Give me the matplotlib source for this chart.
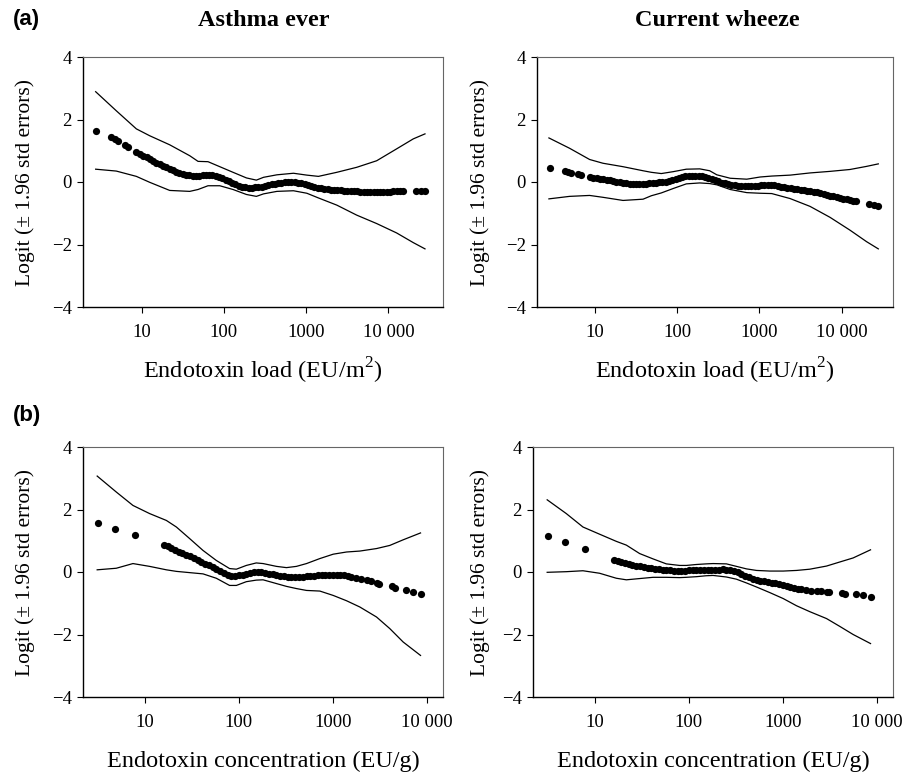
import numpy as np
import matplotlib
matplotlib.use("Agg")
import matplotlib.pyplot as plt

plt.rcParams["font.family"] = "Liberation Serif"
plt.rcParams["mathtext.fontset"] = "custom"
plt.rcParams["mathtext.rm"] = "Liberation Serif"

# endotoxin load (EU/m2) of the observations, same for both outcomes
load_x = [2.8, 4.28, 4.7, 5.15, 6.2, 6.8, 8.6,
          9.55, 10.5, 11.5, 12.6, 13.8, 15.1, 16.6, 18.2, 20.0, 21.9,
          24.0, 26.3, 28.8, 31.6, 34.7, 38.0, 41.7, 45.7, 50.1, 55.0,
          60.3, 66.1, 72.4, 79.4, 87.1, 95.5, 105, 115, 126, 138,
          151, 166, 182, 200, 219, 240, 263, 288, 316, 347,
          380, 417, 457, 501, 550, 603, 661, 724, 794, 871,
          955, 1050, 1150, 1260, 1380, 1510, 1660, 1820, 2000, 2190,
          2400, 2630, 2880, 3160, 3470, 3800, 4170, 4570, 5010, 5500,
          6030, 6610, 7240, 7940, 8710, 9550, 10500, 11500, 12600, 13800,
          15100,
          21700, 24700, 27900]
asthma_load = [1.64, 1.43, 1.38, 1.32, 1.18, 1.13, 0.97,
               0.89, 0.84, 0.79, 0.73, 0.67, 0.62, 0.57, 0.52, 0.47, 0.42,
               0.37, 0.33, 0.30, 0.27, 0.23, 0.21, 0.19, 0.18, 0.19, 0.21,
               0.23, 0.23, 0.22, 0.20, 0.17, 0.13, 0.07, 0.02, -0.02, -0.07,
               -0.12, -0.15, -0.17, -0.18, -0.18, -0.17, -0.16, -0.15, -0.12, -0.10,
               -0.07, -0.05, -0.03, -0.02, -0.01, -0.01, -0.01, -0.01, -0.02, -0.04,
               -0.07, -0.10, -0.13, -0.16, -0.19, -0.20, -0.21, -0.22, -0.24, -0.25,
               -0.26, -0.27, -0.28, -0.29, -0.29, -0.30, -0.30, -0.31, -0.31, -0.31,
               -0.31, -0.31, -0.31, -0.31, -0.31, -0.31, -0.31, -0.30, -0.30, -0.30,
               -0.30,
               -0.30, -0.30, -0.30]
wheeze_load = [0.44, 0.36, 0.33, 0.30, 0.25, 0.23, 0.17,
               0.14, 0.13, 0.11, 0.09, 0.07, 0.05, 0.03, 0.01, -0.01, -0.03,
               -0.04, -0.05, -0.06, -0.06, -0.06, -0.06, -0.05, -0.04, -0.03, -0.02,
               -0.01, -0.01, 0.01, 0.03, 0.06, 0.11, 0.14, 0.17, 0.19, 0.20,
               0.20, 0.20, 0.20, 0.18, 0.16, 0.14, 0.11, 0.07, 0.02, -0.02,
               -0.04, -0.06, -0.09, -0.11, -0.12, -0.13, -0.13, -0.13, -0.13, -0.12,
               -0.12, -0.11, -0.10, -0.09, -0.09, -0.10, -0.12, -0.15, -0.17, -0.18,
               -0.20, -0.21, -0.23, -0.25, -0.26, -0.28, -0.30, -0.31, -0.33, -0.36,
               -0.38, -0.41, -0.44, -0.46, -0.48, -0.51, -0.53, -0.55, -0.58, -0.60,
               -0.62,
               -0.70, -0.74, -0.78]

# confidence band (+/- 1.96 se), load
load_band_x = [2.75, 4.9, 8.6, 12.5, 21.9, 38.4, 48.4, 64, 89, 129, 188, 248,
               303, 441, 701, 1020, 1410, 2360, 4120, 7210, 12600, 20100, 27900]
asthma_load_hi = [2.89, 2.28, 1.70, 1.48, 1.19, 0.84, 0.66, 0.65, 0.49, 0.31, 0.13, 0.06,
                  0.15, 0.23, 0.28, 0.22, 0.18, 0.31, 0.47, 0.68, 1.06, 1.38, 1.54]
asthma_load_lo = [0.41, 0.35, 0.18, -0.01, -0.27, -0.30, -0.24, -0.12, -0.12, -0.24, -0.40, -0.46,
                  -0.38, -0.30, -0.28, -0.36, -0.51, -0.74, -1.06, -1.33, -1.63, -1.94, -2.14]
wheeze_load_hi = [1.41, 1.08, 0.72, 0.60, 0.49, 0.36, 0.31, 0.27, 0.33, 0.41, 0.42, 0.36,
                  0.23, 0.12, 0.09, 0.16, 0.19, 0.22, 0.29, 0.34, 0.40, 0.50, 0.58]
wheeze_load_lo = [-0.54, -0.46, -0.43, -0.49, -0.59, -0.55, -0.44, -0.35, -0.21, -0.06, -0.03, -0.05,
                  -0.09, -0.24, -0.34, -0.36, -0.37, -0.53, -0.78, -1.13, -1.54, -1.91, -2.14]

# endotoxin concentration (EU/g) of the observations
conc_x = [3.2, 4.83, 7.83,
          15.8, 17.4, 19.1, 20.9, 22.9, 25.1, 27.5, 30.2, 33.1, 36.3,
          39.8, 43.7, 47.9, 52.5, 57.5, 63.1, 69.2, 75.9, 83.2, 91.2,
          100, 110, 120, 132, 145, 158, 174, 191, 209, 229,
          251, 275, 302, 331, 363, 398, 437, 479, 525, 575,
          631, 692, 759, 832, 912, 1000, 1100, 1200, 1320, 1450,
          1580,
          1780, 2000, 2290, 2570, 2920, 3090,
          4220, 4570, 5980, 7180, 8590]
asthma_conc = [1.57, 1.39, 1.19,
               0.88, 0.83, 0.77, 0.71, 0.65, 0.60, 0.55, 0.50, 0.44, 0.39,
               0.33, 0.27, 0.21, 0.16, 0.10, 0.04, -0.03, -0.09, -0.13, -0.14,
               -0.11, -0.08, -0.05, -0.03, -0.01, 0.00, 0.01, -0.02, -0.05, -0.07,
               -0.10, -0.12, -0.14, -0.15, -0.16, -0.16, -0.16, -0.15, -0.14, -0.13,
               -0.12, -0.11, -0.10, -0.09, -0.09, -0.09, -0.10, -0.10, -0.11, -0.13,
               -0.15,
               -0.19, -0.23, -0.27, -0.30, -0.34, -0.37,
               -0.46, -0.51, -0.59, -0.64, -0.69]
wheeze_conc = [1.14, 0.95, 0.73,
               0.38, 0.35, 0.31, 0.28, 0.25, 0.23, 0.20, 0.18, 0.16, 0.14,
               0.13, 0.11, 0.09, 0.08, 0.06, 0.05, 0.04, 0.03, 0.03, 0.04,
               0.05, 0.05, 0.06, 0.06, 0.07, 0.07, 0.07, 0.08, 0.08, 0.09,
               0.08, 0.07, 0.03, -0.01, -0.07, -0.12, -0.17, -0.21, -0.25, -0.28,
               -0.30, -0.32, -0.34, -0.36, -0.39, -0.42, -0.46, -0.48, -0.50, -0.53,
               -0.55,
               -0.59, -0.60, -0.61, -0.62, -0.63, -0.64,
               -0.67, -0.69, -0.71, -0.75, -0.79]

conc_band_x = [3.1, 4.95, 7.45, 11.2, 16.9, 21.6, 29.9, 41.5, 57.5, 79.6, 94, 120, 153,
               181, 251, 321, 410, 525, 728, 1010, 1400, 1940, 2920, 4040, 5610, 8590]
asthma_conc_hi = [3.07, 2.56, 2.13, 1.87, 1.65, 1.44, 1.07, 0.69, 0.37, 0.11, 0.09, 0.21, 0.29,
                  0.27, 0.18, 0.14, 0.18, 0.27, 0.43, 0.57, 0.64, 0.67, 0.75, 0.85, 1.03, 1.25]
asthma_conc_lo = [0.07, 0.12, 0.27, 0.18, 0.07, 0.02, -0.02, -0.06, -0.20, -0.43, -0.43, -0.31, -0.26,
                  -0.25, -0.37, -0.46, -0.53, -0.59, -0.61, -0.75, -0.92, -1.12, -1.44, -1.81, -2.24, -2.67]
wheeze_conc_hi = [2.31, 1.87, 1.44, 1.21, 0.98, 0.86, 0.59, 0.42, 0.26, 0.21, 0.21, 0.24, 0.26,
                  0.27, 0.26, 0.18, 0.10, 0.05, 0.03, 0.03, 0.05, 0.09, 0.19, 0.32, 0.45, 0.71]
wheeze_conc_lo = [-0.01, 0.01, 0.04, -0.04, -0.20, -0.25, -0.21, -0.17, -0.17, -0.18, -0.17, -0.15, -0.12,
                  -0.11, -0.16, -0.23, -0.35, -0.48, -0.66, -0.85, -1.08, -1.27, -1.49, -1.74, -2.00, -2.29]

YLABEL = "Logit (\u00b1 1.96 std errors)"
LOAD_LABEL = "Endotoxin load (EU/m$^2$)"
CONC_LABEL = "Endotoxin concentration (EU/g)"
W, H = 906, 779


def panel(rect, x, y, bx, hi, lo, xlim, xlabel, ylab_off):
    left, top, right, bottom = rect
    ax = fig.add_axes([left / W, 1 - bottom / H, (right - left) / W, (bottom - top) / H])
    ax.plot(bx, hi, color="black", lw=0.9)
    ax.plot(bx, lo, color="black", lw=0.9)
    ax.plot(x, y, "o", color="black", ms=5.2, mew=0)
    ax.set_xscale("log")
    ax.set_xlim(xlim)
    ax.set_ylim(-4, 4)
    ax.set_xticks([10, 100, 1000, 10000])
    ax.set_xticklabels(["10", "100", "1000", "10 000"])
    ax.xaxis.set_minor_locator(matplotlib.ticker.NullLocator())
    ax.set_yticks([-4, -2, 0, 2, 4])
    ax.set_yticklabels(["\u22124", "\u22122", "0", "2", "4"])
    ax.tick_params(axis="x", direction="out", length=4, width=0.8, labelsize=13.5, pad=8)
    ax.tick_params(axis="y", direction="out", length=4, width=0.8, labelsize=13.5, pad=4)
    for s in ["top", "right"]:
        ax.spines[s].set_color("#666666")
        ax.spines[s].set_linewidth(0.8)
    for s in ["left", "bottom"]:
        ax.spines[s].set_color("black")
        ax.spines[s].set_linewidth(1.0)
    wpx = right - left
    hpx = bottom - top
    ax.text(-ylab_off / wpx, 0.5, YLABEL, transform=ax.transAxes, rotation=90,
            ha="center", va="center", fontsize=15.5)
    ax.text(0.5, -64 / hpx, xlabel, transform=ax.transAxes,
            ha="center", va="center", fontsize=17.5)
    return ax


fig = plt.figure(figsize=(W / 100, H / 100), dpi=100)

panel((83, 57, 443, 307), load_x, asthma_load, load_band_x, asthma_load_hi, asthma_load_lo,
      (1.93, 46200), LOAD_LABEL, 58)
panel((537, 57, 893, 307), load_x, wheeze_load, load_band_x, wheeze_load_hi, wheeze_load_lo,
      (1.97, 42100), LOAD_LABEL, 57)
panel((83, 447, 443, 697), conc_x, asthma_conc, conc_band_x, asthma_conc_hi, asthma_conc_lo,
      (2.19, 14900), CONC_LABEL, 58)
panel((533, 447, 893, 697), conc_x, wheeze_conc, conc_band_x, wheeze_conc_hi, wheeze_conc_lo,
      (2.19, 14900), CONC_LABEL, 53)

fig.text(264 / W, 1 - 20 / H, "Asthma ever", ha="center", va="center",
         fontsize=17.5, fontweight="bold")
fig.text(717 / W, 1 - 20 / H, "Current wheeze", ha="center", va="center",
         fontsize=17.5, fontweight="bold")
fig.text(13 / W, 1 - 19 / H, "(a)", ha="left", va="center", fontsize=16,
         fontweight="bold", family="Liberation Sans")
fig.text(13 / W, 1 - 415 / H, "(b)", ha="left", va="center", fontsize=16,
         fontweight="bold", family="Liberation Sans")

fig.savefig("out.png", dpi=100, facecolor="white")
